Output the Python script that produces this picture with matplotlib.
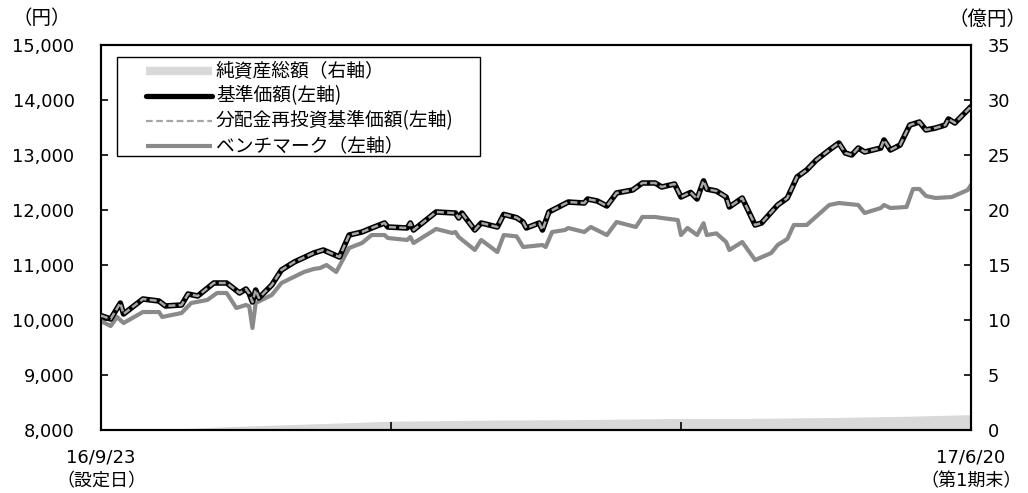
import matplotlib
matplotlib.use("Agg")
import matplotlib.pyplot as plt
from matplotlib.lines import Line2D
from matplotlib.patches import Rectangle
import pandas as pd

plt.rcParams['font.family'] = ['Noto Sans CJK JP', 'DejaVu Sans']
NUM_FONT = ['DejaVu Sans', 'Noto Sans CJK JP']
JP_FONT = ['Noto Sans CJK JP', 'DejaVu Sans']

# ---- data ----
nav_dates = ["2016-09-23","2016-09-26","2016-09-29","2016-09-30","2016-10-06","2016-10-11","2016-10-13",
             "2016-10-18","2016-10-20","2016-10-23","2016-10-28","2016-11-01","2016-11-05","2016-11-07",
             "2016-11-08","2016-11-09","2016-11-10","2016-11-11","2016-11-15","2016-11-18","2016-11-22",
             "2016-11-28","2016-12-01","2016-12-06","2016-12-09","2016-12-13","2016-12-16","2016-12-20",
             "2016-12-21","2016-12-27","2016-12-28","2016-12-29","2017-01-05","2017-01-11","2017-01-12",
             "2017-01-13","2017-01-17","2017-01-19","2017-01-24","2017-01-26","2017-01-30","2017-02-01",
             "2017-02-02","2017-02-06","2017-02-07","2017-02-09","2017-02-15","2017-02-20","2017-02-21",
             "2017-02-24","2017-02-27","2017-03-02","2017-03-07","2017-03-10","2017-03-14","2017-03-16",
             "2017-03-20","2017-03-22","2017-03-25","2017-03-27","2017-03-29","2017-03-30","2017-04-02",
             "2017-04-05","2017-04-06","2017-04-10","2017-04-14","2017-04-16","2017-04-21","2017-04-24",
             "2017-04-27","2017-04-30","2017-05-03","2017-05-07","2017-05-10","2017-05-12","2017-05-14",
             "2017-05-16","2017-05-18","2017-05-23","2017-05-24","2017-05-26","2017-05-29","2017-06-01",
             "2017-06-04","2017-06-06","2017-06-09","2017-06-12","2017-06-13","2017-06-15","2017-06-20"]
nav_values = [10080,10018,10309,10109,10382,10345,10255,
              10273,10473,10436,10673,10673,10491,10564,
              10480,10327,10545,10400,10636,10909,11055,
              11218,11273,11145,11545,11600,11673,11764,
              11691,11673,11764,11636,11964,11945,11855,
              11945,11636,11764,11691,11920,11860,11782,
              11673,11764,11636,11964,12145,12127,12200,
              12164,12073,12309,12364,12491,12491,12418,
              12473,12236,12320,12200,12530,12380,12345,
              12236,12055,12218,11727,11764,12091,12218,
              12600,12727,12909,13091,13218,13036,13000,
              13127,13055,13127,13273,13091,13182,13545,
              13600,13455,13491,13545,13655,13582,13880]
# no distribution paid: reinvested NAV equals NAV
reinv_values = list(nav_values)

bm_dates = ["2016-09-23","2016-09-26","2016-09-28","2016-09-30","2016-10-06","2016-10-11","2016-10-12",
            "2016-10-18","2016-10-21","2016-10-26","2016-10-29","2016-11-01","2016-11-04","2016-11-07",
            "2016-11-08","2016-11-09","2016-11-10","2016-11-15","2016-11-18","2016-11-25","2016-11-28",
            "2016-11-30","2016-12-02","2016-12-05","2016-12-09","2016-12-13","2016-12-16","2016-12-20",
            "2016-12-21","2016-12-27","2016-12-28","2016-12-29","2017-01-05","2017-01-10","2017-01-11",
            "2017-01-12","2017-01-17","2017-01-19","2017-01-24","2017-01-26","2017-01-30","2017-02-01",
            "2017-02-07","2017-02-08","2017-02-10","2017-02-14","2017-02-15","2017-02-20","2017-02-22",
            "2017-02-27","2017-03-02","2017-03-08","2017-03-10","2017-03-14","2017-03-16","2017-03-21",
            "2017-03-22","2017-03-24","2017-03-27","2017-03-29","2017-03-30","2017-04-02","2017-04-05",
            "2017-04-06","2017-04-10","2017-04-14","2017-04-19","2017-04-21","2017-04-24","2017-04-26",
            "2017-04-30","2017-05-07","2017-05-10","2017-05-16","2017-05-18","2017-05-23","2017-05-24",
            "2017-05-26","2017-05-31","2017-06-02","2017-06-04","2017-06-06","2017-06-09","2017-06-14",
            "2017-06-19","2017-06-20"]
bm_values = [9980,9891,10055,9945,10145,10145,10055,
             10127,10309,10364,10491,10491,10218,10273,
             10250,9855,10309,10455,10673,10873,10927,
             10945,11000,10873,11309,11400,11545,11545,
             11491,11455,11509,11400,11655,11582,11600,
             11509,11273,11455,11236,11545,11520,11327,
             11364,11327,11600,11636,11673,11600,11691,
             11545,11782,11691,11873,11873,11855,11818,
             11545,11673,11545,11760,11545,11575,11418,
             11273,11418,11091,11218,11364,11473,11727,
             11727,12091,12127,12091,11945,12036,12091,
             12036,12055,12382,12382,12255,12218,12236,
             12364,12455]

aum_dates = ["2016-09-23","2016-10-13","2016-11-01","2016-11-22","2016-12-22","2017-01-21",
             "2017-02-20","2017-03-22","2017-04-11","2017-05-11","2017-05-31","2017-06-20"]
aum_values = [0.0,0.05,0.3,0.5,0.8,0.9,0.95,1.05,1.05,1.15,1.25,1.4]

xtick_dates = ["2016-09-23","2016-12-22","2017-03-22","2017-06-20"]
xtick_labels = ["16/9/23\n（設定日）", "", "", "17/6/20\n（第1期末）"]
left_ticks = [8000, 9000, 10000, 11000, 12000, 13000, 14000, 15000]
right_ticks = [0, 5, 10, 15, 20, 25, 30, 35]

labels = ["純資産総額（右軸）", "基準価額(左軸)", "分配金再投資基準価額(左軸)", "ベンチマーク（左軸）"]

# ---- figure ----
W, H = 1028, 493
fig = plt.figure(figsize=(W / 100, H / 100), dpi=100)
ax = fig.add_axes([101 / W, 63 / H, 870 / W, 385 / H])
axr = ax.twinx()
ax.set_zorder(axr.get_zorder() + 1)
ax.patch.set_visible(False)

AREA_C, BLACK_C, DASH_C, BM_C = '#d9d9d9', 'black', '#a6a6a6', '#8a8a8a'
DASH_STYLE = (0, (2.8, 1.3))

ad = pd.to_datetime(aum_dates)
axr.fill_between(ad, 0, aum_values, color=AREA_C, lw=0)
axr.set_ylim(0, 35)
axr.set_yticks(right_ticks)

nd = pd.to_datetime(nav_dates)
bd = pd.to_datetime(bm_dates)
ax.plot(bd, bm_values, color=BM_C, lw=3.0, solid_joinstyle='round', zorder=2)
ax.plot(nd, nav_values, color=BLACK_C, lw=4.0, solid_joinstyle='round',
        solid_capstyle='round', zorder=3)
ax.plot(nd, reinv_values, color=DASH_C, lw=1.8, linestyle=DASH_STYLE, zorder=4)

ax.set_ylim(8000, 15000)
ax.set_yticks(left_ticks)
ax.set_yticklabels([f"{v:,}" for v in left_ticks])
ax.set_xlim(pd.Timestamp("2016-09-23"), pd.Timestamp("2017-06-20"))
ax.set_xticks(pd.to_datetime(xtick_dates))
ax.set_xticklabels(xtick_labels)

for a in (ax, axr):
    for s in a.spines.values():
        s.set_linewidth(1.5)
        s.set_color('black')

ax.tick_params(axis='y', direction='in', length=5, width=1.2, pad=19)
ax.tick_params(axis='x', direction='in', length=6, width=1.2, pad=13)
axr.tick_params(axis='y', direction='in', length=5, width=1.2, pad=12)
for t in ax.get_yticklabels() + axr.get_yticklabels():
    t.set_fontfamily(NUM_FONT)
    t.set_fontsize(12.8)
for t in ax.get_xticklabels():
    t.set_fontfamily(NUM_FONT)
    t.set_fontsize(13)
    t.set_linespacing(1.45)

def px(x, y):
    return x / W, 1 - y / H

fig.text(*px(42, 19), "（円）", ha='center', va='center', fontsize=14, family=JP_FONT)
fig.text(*px(1027, 19), "（億円）", ha='right', va='center', fontsize=14, family=JP_FONT)

# ---- legend (drawn manually to match box geometry) ----
fig.patches.append(Rectangle(px(117, 156), 363 / W, 99 / H, transform=fig.transFigure,
                             fill=True, facecolor='white', edgecolor='black', lw=1.0, zorder=10))
rows_y = [71, 96, 121, 146]
styles = [dict(color=AREA_C, lw=6, solid_capstyle='butt'),
          dict(color=BLACK_C, lw=3.8, solid_capstyle='round'),
          dict(color=DASH_C, lw=1.6, linestyle=(0, (3.0, 1.6))),
          dict(color=BM_C, lw=3.0, solid_capstyle='butt')]
for yy, lab, st in zip(rows_y, labels, styles):
    x0, y0 = px(146, yy)
    x1, _ = px(212, yy)
    fig.add_artist(Line2D([x0, x1], [y0, y0], transform=fig.transFigure, zorder=11, **st))
    fig.text(*px(216, yy), lab, ha='left', va='center', fontsize=13.5, family=JP_FONT, zorder=11)

fig.savefig("out.png", dpi=100)
